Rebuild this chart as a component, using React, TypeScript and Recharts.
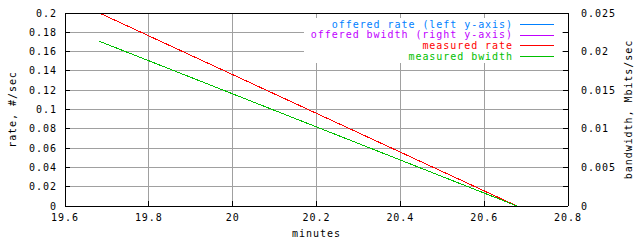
import React from 'react';
import { ComposedChart, Line, XAxis, YAxis, CartesianGrid } from 'recharts';

const minutesTicks = [19.6, 19.8, 20, 20.2, 20.4, 20.6, 20.8];
const rateTicks = [0, 0.02, 0.04, 0.06, 0.08, 0.1, 0.12, 0.14, 0.16, 0.18, 0.2];
const bwTicks = [0, 0.0025, 0.005, 0.0075, 0.01, 0.0125, 0.015, 0.0175, 0.02, 0.0225, 0.025];
const bwLabeled = [0, 0.005, 0.01, 0.015, 0.02, 0.025];

const measuredRateMinutes = [19.682, 20.678];
const measuredRateValues = [0.2, 0];
const measuredBwMinutes = [19.682, 20.678];
const measuredBwValues = [0.02134, 0];

const legendNames = [
  'offered rate (left y-axis)',
  'offered bwidth (right y-axis)',
  'measured rate',
  'measured bwidth',
];
const legendColors = ['#0080ff', '#c000ff', '#ff0000', '#00c000'];

const rateData = measuredRateMinutes.map((t, i) => ({ t, v: measuredRateValues[i] }));
const bwData = measuredBwMinutes.map((t, i) => ({ t, v: measuredBwValues[i] }));

const FONT = '"DejaVu Sans Mono", "Liberation Mono", monospace';
const font = { fontFamily: FONT, fontSize: 10, letterSpacing: 0.95 };

const fmtNum = (v: number) => String(Number(v.toFixed(4)));
const fmtBw = (v: number) =>
  bwLabeled.some((b) => Math.abs(b - v) < 1e-9) ? fmtNum(v) : '';

export default function App() {
  return (
    <div
      className="gp"
      style={{ position: 'absolute', left: 0, top: 0, width: 640, height: 240, background: '#fff' }}
    >
      <style>{`.gp svg line, .gp svg path { shape-rendering: crispEdges; }`}</style>
      <ComposedChart width={640} height={240} margin={{ top: 0, right: 0, bottom: 0, left: 0 }}>
        <CartesianGrid xAxisId="b" yAxisId="left" stroke="#a0a0a0" strokeWidth={1} />
        <XAxis
          xAxisId="top"
          orientation="top"
          dataKey="t"
          type="number"
          domain={[19.6, 20.8]}
          ticks={minutesTicks}
          allowDataOverflow
          height={13}
          tickSize={-5}
          tick={false}
          interval={0}
          stroke="#000"
        />
        <XAxis
          xAxisId="b"
          dataKey="t"
          type="number"
          domain={[19.6, 20.8]}
          ticks={minutesTicks}
          allowDataOverflow
          height={34}
          tickSize={-5}
          tickMargin={13}
          interval={0}
          stroke="#000"
          tick={{ fill: '#000', ...font }}
          tickFormatter={fmtNum}
          label={{ value: 'minutes', position: 'insideBottom', offset: 3, fill: '#000', ...font }}
        />
        <YAxis
          yAxisId="left"
          type="number"
          domain={[0, 0.2]}
          ticks={rateTicks}
          allowDataOverflow
          width={65}
          tickSize={-5}
          tickMargin={13}
          interval={0}
          stroke="#000"
          tick={{ fill: '#000', ...font }}
          tickFormatter={fmtNum}
          label={{
            value: 'rate, #/sec',
            angle: -90,
            position: 'insideLeft',
            offset: 12,
            fill: '#000',
            ...font,
            style: { textAnchor: 'middle' },
          }}
        />
        <YAxis
          yAxisId="right"
          orientation="right"
          type="number"
          domain={[0, 0.025]}
          ticks={bwTicks}
          allowDataOverflow
          width={72}
          tickSize={-5}
          tickMargin={18}
          interval={0}
          stroke="#000"
          tick={{ fill: '#000', ...font }}
          tickFormatter={fmtBw}
          label={{
            value: 'bandwidth, Mbits/sec',
            angle: -90,
            position: 'insideRight',
            offset: 12,
            fill: '#000',
            ...font,
            style: { textAnchor: 'middle' },
          }}
        />
        <Line
          xAxisId="b"
          yAxisId="left"
          data={rateData}
          dataKey="v"
          type="linear"
          stroke={legendColors[2]}
          strokeWidth={1}
          dot={false}
          isAnimationActive={false}
        />
        <Line
          xAxisId="b"
          yAxisId="right"
          data={bwData}
          dataKey="v"
          type="linear"
          stroke={legendColors[3]}
          strokeWidth={1}
          dot={false}
          isAnimationActive={false}
        />
      </ComposedChart>
      <div
        style={{
          position: 'absolute',
          left: 304,
          top: 18,
          width: 258,
          height: 45,
          background: '#fff',
        }}
      >
        <svg width={258} height={45} style={{ display: 'block' }}>
          {legendNames.map((name, i) => (
            <g key={name}>
              <text
                x={209}
                y={6 + i * 10.67}
                textAnchor="end"
                dominantBaseline="central"
                fill={legendColors[i]}
                style={font}
              >
                {name}
              </text>
              <line
                x1={216}
                x2={250}
                y1={6.5 + Math.round(i * 10.67)}
                y2={6.5 + Math.round(i * 10.67)}
                stroke={legendColors[i]}
                strokeWidth={1}
              />
            </g>
          ))}
        </svg>
      </div>
    </div>
  );
}
